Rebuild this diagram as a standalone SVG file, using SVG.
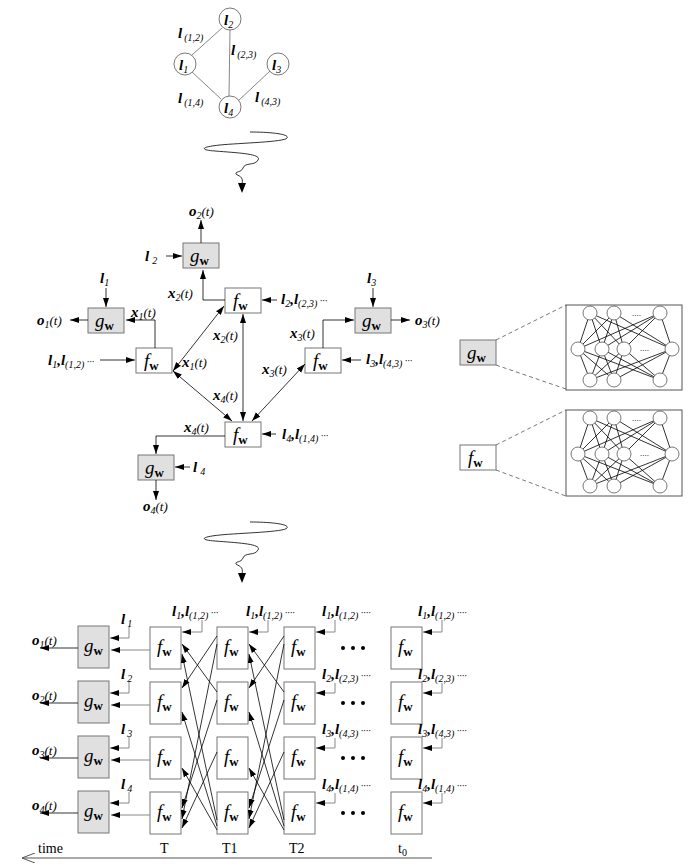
<svg xmlns="http://www.w3.org/2000/svg" width="699" height="868" viewBox="0 0 699 868">
<style>
text{font-family:"Liberation Serif",serif;fill:#000}
.l{font-style:italic;font-weight:bold;font-size:15px}
.s{font-style:italic;font-size:10px;font-weight:normal}
.p{font-style:italic;font-size:13px;font-weight:normal}
.fw{font-style:italic;font-size:19px}
.b{font-weight:bold;font-style:normal;font-size:13px}
.g{fill:#e0e0e0;stroke:#777;stroke-width:1}
.f{fill:#fff;stroke:#777;stroke-width:1}
.ln{stroke:#000;stroke-width:0.8;fill:none}
.gl{stroke:#888;stroke-width:1;fill:none}
.a{stroke:#000;stroke-width:0.8;fill:none;marker-end:url(#ar)}
.ab{stroke:#000;stroke-width:0.8;fill:none;marker-end:url(#ar);marker-start:url(#as)}
.ga{stroke:#888;stroke-width:1;fill:none;marker-end:url(#ar)}
.c{fill:#fff;stroke:#555;stroke-width:0.8}
.d{stroke:#555;stroke-width:0.8;stroke-dasharray:4 3;fill:none}
.t{font-size:14px}
</style>
<defs>
<marker id="ar" markerWidth="10" markerHeight="8" refX="9" refY="4" orient="auto" markerUnits="userSpaceOnUse"><path d="M0,1 L9,4 L0,7 Z" fill="#000"/></marker>
<marker id="as" markerWidth="10" markerHeight="8" refX="1" refY="4" orient="auto" markerUnits="userSpaceOnUse"><path d="M10,1 L1,4 L10,7 Z" fill="#000"/></marker>
<marker id="open" markerWidth="14" markerHeight="10" refX="13" refY="5" orient="auto" markerUnits="userSpaceOnUse"><path d="M0,0 L13,5 L0,10" fill="none" stroke="#555"/></marker>
</defs>

<!-- top graph -->
<g id="graph">
<line class="gl" x1="222" y1="28" x2="192" y2="55"/>
<line class="gl" x1="230" y1="29" x2="229" y2="96"/>
<line class="gl" x1="192" y1="72" x2="221" y2="99"/>
<line class="gl" x1="270" y1="71" x2="238" y2="101"/>
<circle class="c" cx="230" cy="19" r="11"/>
<circle class="c" cx="185" cy="64" r="11"/>
<circle class="c" cx="278" cy="64" r="11"/>
<circle class="c" cx="230" cy="107" r="11"/>
<text class="l" x="224" y="25">l<tspan class="s" dy="3">2</tspan></text>
<text class="l" x="179" y="70">l<tspan class="s" dy="3">1</tspan></text>
<text class="l" x="272" y="70">l<tspan class="s" dy="3">3</tspan></text>
<text class="l" x="224" y="113">l<tspan class="s" dy="3">4</tspan></text>
<text class="l" x="178" y="38">l<tspan class="s" dx="2" dy="3">(1,2)</tspan></text>
<text class="l" x="231" y="55">l<tspan class="s" dx="2" dy="3">(2,3)</tspan></text>
<text class="l" x="178" y="103">l<tspan class="s" dx="2" dy="3">(1,4)</tspan></text>
<text class="l" x="255" y="102">l<tspan class="s" dx="2" dy="3">(4,3)</tspan></text>
</g>
<path id="squiggle1" class="ln" d="M250,132 C270,132 290,134 287,138 C285,142 240,143 220,145 C200,147 200,150 215,151 C240,153 262,154 258,160 C255,166 245,162 243,168 C241,173 235,171 236,174 C238,176 244,176 242,184"/>
<path d="M238,183 L246,183 L242,193 Z"/>

<!-- middle -->
<g id="g2"><rect class="g" x="183" y="243" width="36" height="25"/><text class="fw" x="190" y="262">g<tspan class="b" dy="3">w</tspan></text></g>
<g id="f2"><rect class="f" x="225" y="288" width="36" height="25"/><text class="fw" x="233" y="307">f<tspan class="b" dy="3">w</tspan></text></g>
<g id="g1"><rect class="g" x="88" y="308" width="36" height="25"/><text class="fw" x="95" y="327">g<tspan class="b" dy="3">w</tspan></text></g>
<g id="f1"><rect class="f" x="136" y="348" width="36" height="25"/><text class="fw" x="144" y="367">f<tspan class="b" dy="3">w</tspan></text></g>
<g id="g3"><rect class="g" x="355" y="308" width="36" height="25"/><text class="fw" x="362" y="327">g<tspan class="b" dy="3">w</tspan></text></g>
<g id="f3"><rect class="f" x="305" y="348" width="36" height="25"/><text class="fw" x="313" y="367">f<tspan class="b" dy="3">w</tspan></text></g>
<g id="f4"><rect class="f" x="225" y="422" width="36" height="25"/><text class="fw" x="233" y="441">f<tspan class="b" dy="3">w</tspan></text></g>
<g id="g4"><rect class="g" x="138" y="455" width="36" height="25"/><text class="fw" x="145" y="474">g<tspan class="b" dy="3">w</tspan></text></g>

<g id="mid-connectors">
<path class="a" d="M201,243 V220"/>
<path class="a" d="M166,256 H182"/>
<path class="a" d="M225,300 H203 V270"/>
<path class="a" d="M106,288 V307"/>
<path class="a" d="M155,348 V320 H126"/>
<path class="a" d="M88,320 H70"/>
<path class="a" d="M100,360 H135"/>
<path class="a" d="M277,300 H262"/>
<path class="a" d="M373,288 V307"/>
<path class="a" d="M323,348 V320 H354"/>
<path class="a" d="M391,320 H410"/>
<path class="a" d="M361,360 H342"/>
<path class="ab" d="M173,371 L224,306"/>
<path class="ab" d="M243,314 V421"/>
<path class="ab" d="M173,371 L232,421"/>
<path class="ab" d="M252,421 L305,364"/>
<path class="a" d="M276,434 H262"/>
<path class="a" d="M225,436 H156 V454"/>
<path class="a" d="M190,467 H175"/>
<path class="a" d="M156,480 V500"/>
</g>
<g id="mid-labels">
<text class="l" x="189" y="216">o<tspan class="s" dy="3">2</tspan><tspan class="p" dy="-3">(t)</tspan></text>
<text class="l" x="145" y="261">l<tspan class="s" dx="3" dy="3">2</tspan></text>
<text class="l" x="168" y="298">x<tspan class="s" dy="3">2</tspan><tspan class="p" dy="-3">(t)</tspan></text>
<text class="l" x="100" y="283">l<tspan class="s" dy="3">1</tspan></text>
<text class="l" x="131" y="317">x<tspan class="s" dy="3">1</tspan><tspan class="p" dy="-3">(t)</tspan></text>
<text class="l" x="37" y="325">o<tspan class="s" dy="3">1</tspan><tspan class="p" dy="-3">(t)</tspan></text>
<text class="l" x="48" y="365">l<tspan class="s" dy="3">1</tspan><tspan dy="-3">,l</tspan><tspan class="s" dy="3">(1,2)</tspan><tspan class="s" dy="-3"> ···</tspan></text>
<text class="l" x="281" y="304">l<tspan class="s" dy="3">2</tspan><tspan dy="-3">,l</tspan><tspan class="s" dy="3">(2,3)</tspan><tspan class="s" dy="-3"> ···</tspan></text>
<text class="l" x="213" y="340">x<tspan class="s" dy="3">2</tspan><tspan class="p" dy="-3">(t)</tspan></text>
<text class="l" x="182" y="367">x<tspan class="s" dy="3">1</tspan><tspan class="p" dy="-3">(t)</tspan></text>
<text class="l" x="213" y="400">x<tspan class="s" dy="3">4</tspan><tspan class="p" dy="-3">(t)</tspan></text>
<text class="l" x="184" y="432">x<tspan class="s" dy="3">4</tspan><tspan class="p" dy="-3">(t)</tspan></text>
<text class="l" x="367" y="283">l<tspan class="s" dy="3">3</tspan></text>
<text class="l" x="290" y="338">x<tspan class="s" dy="3">3</tspan><tspan class="p" dy="-3">(t)</tspan></text>
<text class="l" x="262" y="374">x<tspan class="s" dy="3">3</tspan><tspan class="p" dy="-3">(t)</tspan></text>
<text class="l" x="415" y="325">o<tspan class="s" dy="3">3</tspan><tspan class="p" dy="-3">(t)</tspan></text>
<text class="l" x="366" y="364">l<tspan class="s" dy="3">3</tspan><tspan dy="-3">,l</tspan><tspan class="s" dy="3">(4,3)</tspan><tspan class="s" dy="-3"> ···</tspan></text>
<text class="l" x="282" y="439">l<tspan class="s" dy="3">4</tspan><tspan dy="-3">,l</tspan><tspan class="s" dy="3">(1,4)</tspan><tspan class="s" dy="-3"> ···</tspan></text>
<text class="l" x="193" y="472">l<tspan class="s" dx="3" dy="3">4</tspan></text>
<text class="l" x="143" y="511">o<tspan class="s" dy="3">4</tspan><tspan class="p" dy="-3">(t)</tspan></text>
</g>

<!-- right networks -->
<g id="gnet">
<rect class="g" x="460" y="340" width="36" height="25"/><text class="fw" x="467" y="359">g<tspan class="b" dy="3">w</tspan></text>
<line class="d" x1="496" y1="340" x2="566" y2="305"/><line class="d" x1="496" y1="365" x2="566" y2="389"/>
<rect x="566" y="305" width="116" height="85" fill="#fff" stroke="#555"/>
<g class="ln" stroke="#333">
<path d="M590,313 L578,349 M590,313 L602,349 M590,313 L624,349 M590,313 L672,349 M614,313 L578,349 M614,313 L602,349 M614,313 L624,349 M614,313 L672,349 M660,313 L578,349 M660,313 L602,349 M660,313 L624,349 M660,313 L672,349"/>
<path d="M590,380 L578,349 M590,380 L602,349 M590,380 L624,349 M590,380 L672,349 M614,380 L578,349 M614,380 L602,349 M614,380 L624,349 M614,380 L672,349 M660,380 L578,349 M660,380 L602,349 M660,380 L624,349 M660,380 L672,349"/>
</g>
<circle class="c" cx="590" cy="313" r="7"/><circle class="c" cx="614" cy="313" r="7"/><circle class="c" cx="660" cy="313" r="7"/>
<circle class="c" cx="578" cy="349" r="7"/><circle class="c" cx="602" cy="349" r="7"/><circle class="c" cx="624" cy="349" r="7"/><circle class="c" cx="672" cy="349" r="7"/>
<circle class="c" cx="590" cy="380" r="7"/><circle class="c" cx="614" cy="380" r="7"/><circle class="c" cx="660" cy="380" r="7"/>
<text x="632" y="316" font-size="9">....</text><text x="640" y="351" font-size="9">....</text>
</g>
<g id="fnet">
<rect class="f" x="460" y="445" width="36" height="25"/><text class="fw" x="468" y="464">f<tspan class="b" dy="3">w</tspan></text>
<line class="d" x1="496" y1="445" x2="566" y2="410"/><line class="d" x1="496" y1="470" x2="566" y2="496"/>
<rect x="566" y="410" width="116" height="86" fill="#fff" stroke="#555"/>
<g class="ln" stroke="#333">
<path d="M590,418 L578,454 M590,418 L602,454 M590,418 L624,454 M590,418 L672,454 M614,418 L578,454 M614,418 L602,454 M614,418 L624,454 M614,418 L672,454 M660,418 L578,454 M660,418 L602,454 M660,418 L624,454 M660,418 L672,454"/>
<path d="M590,486 L578,454 M590,486 L602,454 M590,486 L624,454 M590,486 L672,454 M614,486 L578,454 M614,486 L602,454 M614,486 L624,454 M614,486 L672,454 M660,486 L578,454 M660,486 L602,454 M660,486 L624,454 M660,486 L672,454"/>
</g>
<circle class="c" cx="590" cy="418" r="7"/><circle class="c" cx="614" cy="418" r="7"/><circle class="c" cx="660" cy="418" r="7"/>
<circle class="c" cx="578" cy="454" r="7"/><circle class="c" cx="602" cy="454" r="7"/><circle class="c" cx="624" cy="454" r="7"/><circle class="c" cx="672" cy="454" r="7"/>
<circle class="c" cx="590" cy="486" r="7"/><circle class="c" cx="614" cy="486" r="7"/><circle class="c" cx="660" cy="486" r="7"/>
<text x="632" y="421" font-size="9">....</text><text x="640" y="456" font-size="9">....</text>
</g>

<path id="squiggle2" class="ln" d="M250,522 C270,522 290,524 287,528 C285,532 240,533 220,535 C200,537 200,540 215,541 C240,543 262,544 258,550 C255,556 245,552 243,558 C241,563 235,561 236,564 C238,566 244,566 242,574"/>
<path d="M238,573 L246,573 L242,583 Z"/>

<!-- unfolded -->
<g id="unfold-nodes">
<g id="ug1"><rect class="g" x="78" y="626" width="31" height="42"/><text class="fw" x="84" y="652">g<tspan class="b" dy="3">w</tspan></text></g>
<g id="ug2"><rect class="g" x="78" y="681" width="31" height="42"/><text class="fw" x="84" y="707">g<tspan class="b" dy="3">w</tspan></text></g>
<g id="ug3"><rect class="g" x="78" y="736" width="31" height="42"/><text class="fw" x="84" y="762">g<tspan class="b" dy="3">w</tspan></text></g>
<g id="ug4"><rect class="g" x="78" y="791" width="31" height="42"/><text class="fw" x="84" y="817">g<tspan class="b" dy="3">w</tspan></text></g>
<g id="uT1"><rect class="f" x="150" y="627" width="31" height="42"/><text class="fw" x="157" y="653">f<tspan class="b" dy="3">w</tspan></text></g>
<g id="uT2"><rect class="f" x="150" y="682" width="31" height="42"/><text class="fw" x="157" y="708">f<tspan class="b" dy="3">w</tspan></text></g>
<g id="uT3"><rect class="f" x="150" y="737" width="31" height="42"/><text class="fw" x="157" y="763">f<tspan class="b" dy="3">w</tspan></text></g>
<g id="uT4"><rect class="f" x="150" y="792" width="31" height="42"/><text class="fw" x="157" y="818">f<tspan class="b" dy="3">w</tspan></text></g>
<g id="uA1"><rect class="f" x="217" y="627" width="31" height="42"/><text class="fw" x="224" y="653">f<tspan class="b" dy="3">w</tspan></text></g>
<g id="uA2"><rect class="f" x="217" y="682" width="31" height="42"/><text class="fw" x="224" y="708">f<tspan class="b" dy="3">w</tspan></text></g>
<g id="uA3"><rect class="f" x="217" y="737" width="31" height="42"/><text class="fw" x="224" y="763">f<tspan class="b" dy="3">w</tspan></text></g>
<g id="uA4"><rect class="f" x="217" y="792" width="31" height="42"/><text class="fw" x="224" y="818">f<tspan class="b" dy="3">w</tspan></text></g>
<g id="uB1"><rect class="f" x="284" y="627" width="31" height="42"/><text class="fw" x="291" y="653">f<tspan class="b" dy="3">w</tspan></text></g>
<g id="uB2"><rect class="f" x="284" y="682" width="31" height="42"/><text class="fw" x="291" y="708">f<tspan class="b" dy="3">w</tspan></text></g>
<g id="uB3"><rect class="f" x="284" y="737" width="31" height="42"/><text class="fw" x="291" y="763">f<tspan class="b" dy="3">w</tspan></text></g>
<g id="uB4"><rect class="f" x="284" y="792" width="31" height="42"/><text class="fw" x="291" y="818">f<tspan class="b" dy="3">w</tspan></text></g>
<g id="uC1"><rect class="f" x="391" y="627" width="31" height="42"/><text class="fw" x="398" y="653">f<tspan class="b" dy="3">w</tspan></text></g>
<g id="uC2"><rect class="f" x="391" y="682" width="31" height="42"/><text class="fw" x="398" y="708">f<tspan class="b" dy="3">w</tspan></text></g>
<g id="uC3"><rect class="f" x="391" y="737" width="31" height="42"/><text class="fw" x="398" y="763">f<tspan class="b" dy="3">w</tspan></text></g>
<g id="uC4"><rect class="f" x="391" y="792" width="31" height="42"/><text class="fw" x="398" y="818">f<tspan class="b" dy="3">w</tspan></text></g>
</g>
<g id="unfold-connectors">
<path class="ga" d="M150,650 H111"/><path class="ga" d="M150,705 H111"/><path class="ga" d="M150,760 H111"/><path class="ga" d="M150,815 H111"/>
<path class="a" d="M78,648 H40"/><path class="a" d="M78,703 H40"/><path class="a" d="M78,758 H40"/><path class="a" d="M78,813 H40"/>
<path class="ga" d="M129,627 V638 H110"/><path class="ga" d="M129,682 V693 H110"/><path class="ga" d="M129,737 V748 H110"/><path class="ga" d="M129,792 V803 H110"/>
<path class="ga" d="M202,620 V632 H182"/><path class="ga" d="M268,620 V632 H249"/><path class="ga" d="M335,620 V632 H316"/><path class="ga" d="M442,620 V632 H423"/>
<path class="ga" d="M335,683 V693 H316"/><path class="ga" d="M335,738 V748 H316"/><path class="ga" d="M335,793 V803 H316"/>
<path class="ga" d="M442,683 V693 H423"/><path class="ga" d="M442,738 V748 H423"/><path class="ga" d="M442,793 V803 H423"/>
<g id="cross1">
<path class="a" d="M217,636 L182,688"/>
<path class="a" d="M217,644 L182,819"/>
<path class="a" d="M217,692 L182,644"/>
<path class="a" d="M217,700 L182,808"/>
<path class="a" d="M217,752 L182,828"/>
<path class="a" d="M217,820 L182,654"/>
<path class="a" d="M217,826 L182,712"/>
<path class="a" d="M217,830 L182,768"/>
</g>
<g id="cross2">
<path class="a" d="M284,636 L249,688"/>
<path class="a" d="M284,644 L249,819"/>
<path class="a" d="M284,692 L249,644"/>
<path class="a" d="M284,700 L249,808"/>
<path class="a" d="M284,752 L249,828"/>
<path class="a" d="M284,820 L249,654"/>
<path class="a" d="M284,826 L249,712"/>
<path class="a" d="M284,830 L249,768"/>
</g>
<line x1="432" y1="858" x2="22" y2="858" stroke="#555" stroke-width="1" marker-end="url(#open)"/>
</g>
<g id="unfold-labels">
<text class="l" x="32" y="645">o<tspan class="s" dy="3">1</tspan><tspan class="p" dy="-3">(t)</tspan></text>
<text class="l" x="32" y="700">o<tspan class="s" dy="3">2</tspan><tspan class="p" dy="-3">(t)</tspan></text>
<text class="l" x="32" y="755">o<tspan class="s" dy="3">3</tspan><tspan class="p" dy="-3">(t)</tspan></text>
<text class="l" x="32" y="810">o<tspan class="s" dy="3">4</tspan><tspan class="p" dy="-3">(t)</tspan></text>
<text class="l" x="121" y="624">l<tspan class="s" dx="2" dy="3">1</tspan></text>
<text class="l" x="121" y="679">l<tspan class="s" dx="2" dy="3">2</tspan></text>
<text class="l" x="121" y="734">l<tspan class="s" dx="2" dy="3">3</tspan></text>
<text class="l" x="121" y="789">l<tspan class="s" dx="2" dy="3">4</tspan></text>
<text class="l" x="172" y="616">l<tspan class="s" dy="3">1</tspan><tspan dy="-3">,l</tspan><tspan class="s" dy="3">(1,2)</tspan><tspan class="s" dy="-3"> ···</tspan></text>
<text class="l" x="246" y="616">l<tspan class="s" dy="3">1</tspan><tspan dy="-3">,l</tspan><tspan class="s" dy="3">(1,2)</tspan><tspan class="s" dy="-3"> ····</tspan></text>
<text class="l" x="322" y="616">l<tspan class="s" dy="3">1</tspan><tspan dy="-3">,l</tspan><tspan class="s" dy="3">(1,2)</tspan><tspan class="s" dy="-3"> ····</tspan></text>
<text class="l" x="418" y="616">l<tspan class="s" dy="3">1</tspan><tspan dy="-3">,l</tspan><tspan class="s" dy="3">(1,2)</tspan><tspan class="s" dy="-3"> ····</tspan></text>
<text class="l" x="322" y="679">l<tspan class="s" dy="3">2</tspan><tspan dy="-3">,l</tspan><tspan class="s" dy="3">(2,3)</tspan><tspan class="s" dy="-3"> ····</tspan></text>
<text class="l" x="418" y="679">l<tspan class="s" dy="3">2</tspan><tspan dy="-3">,l</tspan><tspan class="s" dy="3">(2,3)</tspan><tspan class="s" dy="-3"> ····</tspan></text>
<text class="l" x="322" y="734">l<tspan class="s" dy="3">3</tspan><tspan dy="-3">,l</tspan><tspan class="s" dy="3">(4,3)</tspan><tspan class="s" dy="-3"> ····</tspan></text>
<text class="l" x="418" y="734">l<tspan class="s" dy="3">3</tspan><tspan dy="-3">,l</tspan><tspan class="s" dy="3">(4,3)</tspan><tspan class="s" dy="-3"> ····</tspan></text>
<text class="l" x="322" y="789">l<tspan class="s" dy="3">4</tspan><tspan dy="-3">,l</tspan><tspan class="s" dy="3">(1,4)</tspan><tspan class="s" dy="-3"> ····</tspan></text>
<text class="l" x="418" y="789">l<tspan class="s" dy="3">4</tspan><tspan dy="-3">,l</tspan><tspan class="s" dy="3">(1,4)</tspan><tspan class="s" dy="-3"> ····</tspan></text>
<g fill="#000"><circle cx="343" cy="648" r="2"/><circle cx="353" cy="648" r="2"/><circle cx="363" cy="648" r="2"/>
<circle cx="343" cy="703" r="2"/><circle cx="353" cy="703" r="2"/><circle cx="363" cy="703" r="2"/>
<circle cx="343" cy="758" r="2"/><circle cx="353" cy="758" r="2"/><circle cx="363" cy="758" r="2"/>
<circle cx="343" cy="813" r="2"/><circle cx="353" cy="813" r="2"/><circle cx="363" cy="813" r="2"/></g>
<text class="t" x="38" y="853">time</text>
<text class="t" x="160" y="853">T</text>
<text class="t" x="222" y="853">T1</text>
<text class="t" x="289" y="853">T2</text>
<text class="t" x="398" y="853">t<tspan font-size="10" dy="3">0</tspan></text>
</g>
</svg>
